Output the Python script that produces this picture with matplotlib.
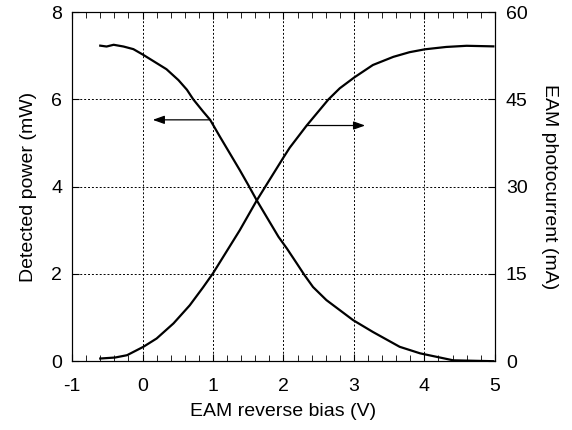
import matplotlib
matplotlib.use("Agg")
import matplotlib.pyplot as plt

# detected power vs bias (left axis)
bias_p = [-0.60, -0.51, -0.41, -0.27, -0.13, 0.01, 0.20, 0.34, 0.51, 0.63,
          0.72, 0.86, 0.96, 1.10, 1.24, 1.38, 1.50, 1.62, 1.76, 1.93, 2.05,
          2.19, 2.30, 2.42, 2.61, 2.80, 2.99, 3.27, 3.65, 3.94, 4.41, 4.98]
power = [7.23, 7.21, 7.25, 7.21, 7.15, 7.02, 6.83, 6.69, 6.44, 6.22,
         6.00, 5.72, 5.53, 5.14, 4.76, 4.38, 4.04, 3.69, 3.31, 2.85, 2.58,
         2.24, 1.97, 1.70, 1.40, 1.17, 0.94, 0.67, 0.33, 0.18, 0.02, 0.0]

# photocurrent vs bias (right axis)
bias_i = [-0.60, -0.39, -0.22, 0.01, 0.20, 0.44, 0.67, 0.86, 1.00, 1.19,
          1.38, 1.62, 1.81, 2.00, 2.09, 2.33, 2.64, 2.80, 3.01, 3.27, 3.56,
          3.79, 4.01, 4.31, 4.60, 4.98]
current = [0.46, 0.63, 1.03, 2.46, 3.9, 6.5, 9.6, 12.7, 15.1, 18.8,
           22.5, 27.6, 31.3, 35.0, 36.7, 40.5, 45.0, 46.9, 48.8, 50.9, 52.3,
           53.1, 53.6, 54.0, 54.2, 54.1]

plt.rcParams['font.family'] = ['Liberation Sans', 'DejaVu Sans']
plt.rcParams['font.size'] = 14
plt.rcParams['axes.unicode_minus'] = False

fig, ax = plt.subplots(figsize=(5.72, 4.30), dpi=100)
fig.subplots_adjust(left=0.126, right=0.865, bottom=0.160, top=0.972)
ax2 = ax.twinx()

ax.plot(bias_p, power, color='black', lw=1.6)
ax2.plot(bias_i, current, color='black', lw=1.6)

ax.set_xlim(-1, 5)
ax.set_ylim(0, 8)
ax2.set_ylim(0, 60)
ax.set_xticks(range(-1, 6))
ax.set_xticks([x / 5 for x in range(-5, 26)], minor=True)
ax.set_yticks([0, 2, 4, 6, 8])
ax2.set_yticks([0, 15, 30, 45, 60])

ax.grid(True, which='major', color='black', ls=(0, (2, 2)), lw=0.7)
ax.tick_params(which='both', direction='in', top=True, labelsize=14)
ax.tick_params(axis='x', pad=12)
ax.tick_params(axis='y', pad=7)
ax.tick_params(which='major', length=5)
ax.tick_params(which='minor', length=4)
ax2.tick_params(direction='in', labelsize=14, length=5, pad=8)
for a in (ax, ax2):
    for s in a.spines.values():
        s.set_linewidth(0.8)

ax.set_xlabel('EAM reverse bias (V)', labelpad=6)
ax.set_ylabel('Detected power (mW)', labelpad=10)
ax2.set_ylabel('EAM photocurrent (mA)', rotation=270, labelpad=22)

# arrows pointing to each curve's axis
head = '-|>,head_length=0.7,head_width=0.25'
ax.annotate('', xy=(0.145, 5.53), xytext=(0.96, 5.53),
            arrowprops=dict(arrowstyle=head, color='black', lw=0.9,
                            mutation_scale=10, shrinkA=0, shrinkB=0))
ax2.annotate('', xy=(3.16, 40.5), xytext=(2.33, 40.5),
             arrowprops=dict(arrowstyle=head, color='black', lw=0.9,
                             mutation_scale=10, shrinkA=0, shrinkB=0))

fig.savefig('out.png', dpi=100)
